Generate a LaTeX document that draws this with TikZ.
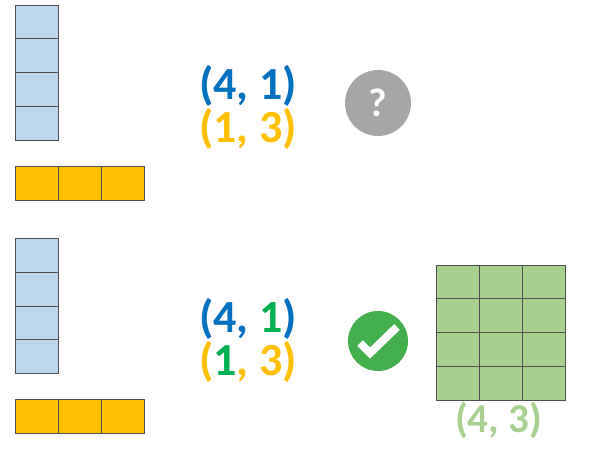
\documentclass[tikz,border=0pt]{standalone}
\usepackage{fontspec}
\setmainfont{Carlito}
\definecolor{cblue}{RGB}{189,215,238}
\definecolor{cgold}{RGB}{255,192,0}
\definecolor{cgreen}{RGB}{169,209,142}
\definecolor{tblue}{RGB}{0,112,192}
\definecolor{tgreen}{RGB}{0,176,80}
\definecolor{okgreen}{RGB}{67,176,77}
\definecolor{qgray}{RGB}{166,166,166}
\definecolor{edge}{RGB}{80,80,80}
\tikzset{
  cellA/.style={draw=edge,line width=1pt,fill=cblue},
  cellB/.style={draw=edge,line width=1pt,fill=cgold},
  cellC/.style={draw=edge,line width=1pt,fill=cgreen},
  lab/.style={font=\fontsize{46}{46}\selectfont\bfseries,inner sep=0pt,anchor=center},
}
\begin{document}
\begin{tikzpicture}[x=1pt,y=-1pt]
\useasboundingbox (0,0) rectangle (601,458);
\foreach \i in {0,1,2,3}{
  \draw[cellA] (15,{5+33.75*\i}) rectangle (58,{5+33.75*(\i+1)});
  \draw[cellA] (15,{238.5+33.75*\i}) rectangle (58,{238.5+33.75*(\i+1)});
}
\foreach \i in {0,1,2}{
  \draw[cellB] ({15+43.3*\i},166) rectangle ({15+43.3*(\i+1)},200);
  \draw[cellB] ({15+43.3*\i},399.5) rectangle ({15+43.3*(\i+1)},433);
}
\foreach \i in {0,1,2}\foreach \j in {0,1,2,3}{
  \draw[cellC] ({436+43.3*\i},{265+33.75*\j}) rectangle ({436+43.3*(\i+1)},{265+33.75*(\j+1)});
}
\node[lab,text=tblue] (t1) at (248,86) {(4, 1)};
\node[lab,text=cgold] (t2) at (248,129) {(1, 3)};
\node[lab,text=tblue] (t3) at (248,319) {(4, \textcolor{tgreen}{1})};
\node[lab,text=cgold] (t4) at (248,362) {(\textcolor{tgreen}{1}, 3)};
\node[lab,text=cgreen,font=\fontsize{41}{41}\selectfont\bfseries] (t5) at (498.5,420) {(4, 3)};
\node[circle,fill=qgray,minimum size=66pt,inner sep=0pt,text=white,font=\fontsize{40}{40}\selectfont\bfseries] (q) at (378,103) {?};
\node[circle,fill=okgreen,minimum size=60pt,inner sep=0pt] (ok) at (378,341) {};
\draw[white,line width=8pt] (360,343) -- (370,353) -- (397,327);
\end{tikzpicture}
\end{document}
